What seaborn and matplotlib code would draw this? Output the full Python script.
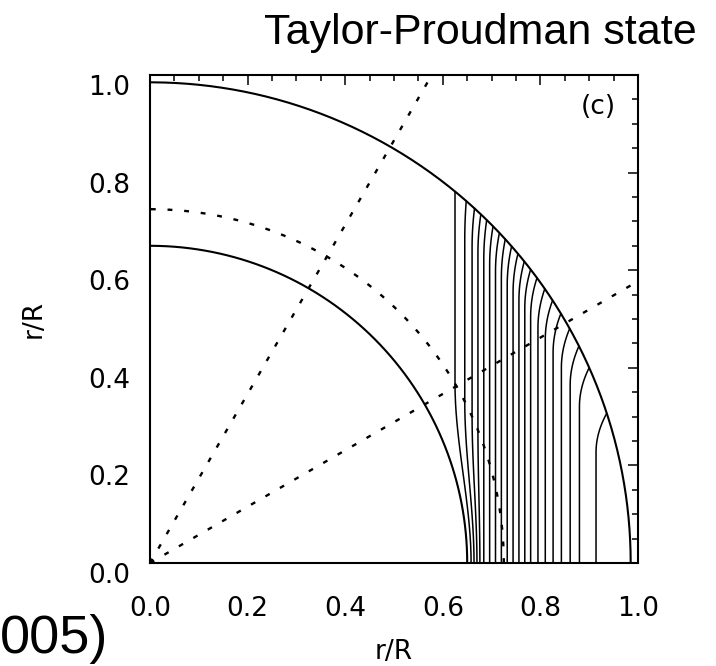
import numpy as np
import pandas as pd
import matplotlib
matplotlib.use("Agg")
import matplotlib.pyplot as plt
import seaborn as sns

# shells (r/R)
r_surface = 0.985
r_base_cz = 0.65
r_tacho = 0.725
ray_angles = [30, 60]  # degrees from the equatorial plane

# contours of angular velocity:
# x in the deep vertical part, x where the line meets the surface, x at the equator
x_mid = [0.625, 0.645, 0.66, 0.672, 0.684, 0.696, 0.708, 0.72, 0.732, 0.744,
         0.756, 0.768, 0.78, 0.795, 0.81, 0.826, 0.843, 0.861, 0.88, 0.914]
x_top = [0.625, 0.648, 0.665, 0.678, 0.69, 0.703, 0.716, 0.728, 0.741, 0.754,
         0.767, 0.78, 0.793, 0.809, 0.825, 0.842, 0.86, 0.879, 0.90, 0.936]
x_bot = [0.658, 0.664, 0.670, 0.676, 0.684, 0.696, 0.708, 0.72, 0.732, 0.744,
         0.756, 0.768, 0.78, 0.795, 0.81, 0.826, 0.843, 0.861, 0.88, 0.914]
bend_h = 0.08

ticks = [0.0, 0.2, 0.4, 0.6, 0.8, 1.0]
tick_labels = ["0.0", "0.2", "0.4", "0.6", "0.8", "1.0"]

sns.set_style("white")
plt.rcParams["lines.scale_dashes"] = False
plt.rcParams["font.family"] = ["DejaVu Sans"]
plt.rcParams["text.color"] = "black"
plt.rcParams["axes.labelcolor"] = "black"

fig = plt.figure(figsize=(7.16, 6.66), dpi=100)
ax = fig.add_axes([150 / 716, 103 / 666, 488 / 716, 488 / 666])

# build contour paths
rows = []
for i in range(len(x_mid)):
    xm, xt, xb = x_mid[i], x_top[i], x_bot[i]
    ys = np.sqrt(r_surface ** 2 - xt ** 2)
    yb = ys - bend_h
    pts = []
    if xm < r_tacho:
        yc = np.sqrt(max(r_tacho ** 2 - xm ** 2, 0))
        for tt in np.linspace(0, 1, 20):
            pts.append((xb + (xm - xb) * (3 * tt ** 2 - 2 * tt ** 3), yc * tt))
        y0 = yc
    else:
        y0 = 0.0
        pts.append((xb, 0.0))
    for yy in np.linspace(y0, yb, 10)[1:]:
        pts.append((xm, yy))
    for tt in np.linspace(0, 1, 15)[1:]:
        pts.append((xm + (xt - xm) * tt ** 2, yb + (ys - yb) * tt))
    for j, (px, py) in enumerate(pts):
        rows.append({"x": px, "y": py, "cid": i, "order": j})
df = pd.DataFrame(rows)

sns.lineplot(data=df, x="x", y="y", units="cid", estimator=None, sort=False,
             color="black", lw=1.1, ax=ax, legend=False)

th = np.linspace(0, np.pi / 2, 200)
ax.plot(r_surface * np.cos(th), r_surface * np.sin(th), color="black", lw=1.5)
ax.plot(r_base_cz * np.cos(th), r_base_cz * np.sin(th), color="black", lw=1.5)
ax.plot(r_tacho * np.cos(th), r_tacho * np.sin(th), color="black", lw=1.7,
        dashes=(3.5, 8.5))
for a in ray_angles:
    ar = np.deg2rad(a)
    ax.plot([0, 1.3 * np.cos(ar)], [0, 1.3 * np.sin(ar)], color="black", lw=1.7,
            dashes=(3.5, 8.5))

ax.set_xlim(0, 1)
ax.set_ylim(0, 1)
ax.set_xticks(ticks)
ax.set_yticks(ticks)
ax.set_xticklabels(tick_labels)
ax.set_yticklabels(tick_labels)
ax.set_xticks(np.arange(0, 1.001, 0.05), minor=True)
ax.set_yticks(np.arange(0, 1.001, 0.05), minor=True)
ax.tick_params(which="both", direction="in", top=True, right=True,
               color="black", width=1.1, labelsize=19, labelcolor="black")
ax.tick_params(which="major", length=7.5, pad=14)
ax.tick_params(which="minor", length=4)
ax.tick_params(axis="x", which="major", pad=24)
for lab in ax.get_yticklabels():
    lab.set_verticalalignment("top")
for s in ax.spines.values():
    s.set_color("black")
    s.set_linewidth(1.5)
ax.set_xlabel("r/R", fontsize=19, labelpad=12)
ax.set_ylabel("r/R", fontsize=19, labelpad=30)

ax.text(0.955, 0.935, "(c)", transform=ax.transAxes, ha="right", va="center",
        fontsize=19)

fig.text(697 / 716, 1 - 13 / 666, "Taylor-Proudman state", ha="right", va="top",
         fontsize=31, family=["Liberation Sans"])
fig.text(0.0, 2 / 666, "005)", ha="left", va="bottom",
         fontsize=39, family=["Liberation Sans"])

fig.savefig("out.png", dpi=100)
